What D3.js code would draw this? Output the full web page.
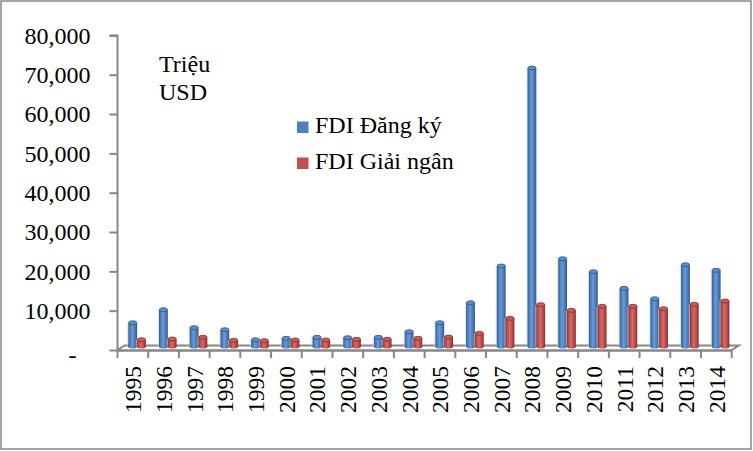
<!DOCTYPE html>
<html>
<head>
<meta charset="utf-8">
<script src="https://cdn.jsdelivr.net/npm/d3@7"></script>
<style>
html,body{margin:0;padding:0;background:#fff;}
svg{display:block;}
text{font-family:"Liberation Serif","Times New Roman",serif;fill:#000;}
</style>
</head>
<body>
<svg id="chart" width="753" height="451"></svg>
<script>
const years = ["1995","1996","1997","1998","1999","2000","2001","2002","2003","2004","2005","2006","2007","2008","2009","2010","2011","2012","2013","2014"];
const registered = [6940,10250,5670,5160,2620,2970,3230,3130,3230,4650,6940,12030,21360,71700,23210,19910,15690,13040,21690,20260];
const disbursed  = [2620,2800,3230,2470,2360,2540,2540,2720,2720,2970,3300,4250,8060,11520,10090,11110,11110,10500,11620,12460];
const seriesNames = ["FDI Đăng ký","FDI Giải ngân"];
const yTickValues = [0,10000,20000,30000,40000,50000,60000,70000,80000];
const unitLines = ["Triệu","USD"];

(function(){
const svg = d3.select("#chart");
const W = 753, H = 451;
const pLeft = 117.5, pRight = 731.7, pBottom = 350, pTop = 35.4;
const depth = {dx: 7, dy: -4.5};

// border
svg.append("rect").attr("x",1).attr("y",1).attr("width",W-3).attr("height",H-3)
  .attr("fill","#fff").attr("stroke","#868686").attr("stroke-width",1.5);

const x = d3.scaleBand().domain(years).range([pLeft,pRight]).paddingInner(0).paddingOuter(0);
const y = d3.scaleLinear().domain([0,80000]).range([pBottom,pTop]);

// gradients
const defs = svg.append("defs");
function grad(id, stops){
  const g = defs.append("linearGradient").attr("id",id).attr("x1","0%").attr("x2","100%").attr("y1","0%").attr("y2","0%");
  stops.forEach(s=>g.append("stop").attr("offset",s[0]).attr("stop-color",s[1]));
}
grad("gBlue",[["0%","#2f5a8f"],["18%","#4a7cbb"],["45%","#6a9ad4"],["75%","#4b7cb9"],["100%","#2c5486"]]);
grad("gRed",[["0%","#8e302d"],["18%","#bb4b48"],["45%","#d46b67"],["75%","#b94a47"],["100%","#872d2a"]]);
const styles = [
  {fill:"url(#gBlue)", cap:"#5d8dcb", capStroke:"#2c5486"},
  {fill:"url(#gRed)", cap:"#c95c59", capStroke:"#872d2a"}
];

// floor (3D)
const axisColor = "#868686";
svg.append("path")
  .attr("d",`M${pLeft},${pBottom} L${pLeft+depth.dx},${pBottom+depth.dy} L${pRight+depth.dx},${pBottom+depth.dy} L${pRight},${pBottom}`)
  .attr("fill","none").attr("stroke",axisColor).attr("stroke-width",2);

// bars
const barW = 8.8, ry = 2;
const baseC = pBottom - 3.5;
const data = [registered, disbursed];
data.forEach((vals, si) => {
  const g = svg.append("g");
  const st = styles[si];
  const groups = g.selectAll("g").data(years.map((yr,i)=>({yr, v: vals[i]}))).join("g");
  groups.each(function(d){
    const sel = d3.select(this);
    const x0 = x(d.yr) + 10.8 + si*barW;
    const topC = y(d.v);
    const cx = x0 + barW/2;
    sel.append("rect").attr("x",x0-1.2).attr("y",topC).attr("width",1.4).attr("height",baseC-topC)
      .attr("fill","#c9d3df").attr("opacity",0.6);
    sel.append("ellipse").attr("cx",cx).attr("cy",baseC).attr("rx",barW/2).attr("ry",ry).attr("fill",st.fill);
    sel.append("rect").attr("x",x0).attr("y",topC).attr("width",barW).attr("height",baseC-topC).attr("fill",st.fill);
    sel.append("ellipse").attr("cx",cx).attr("cy",topC).attr("rx",barW/2-0.3).attr("ry",ry)
      .attr("fill",st.cap).attr("stroke",st.capStroke).attr("stroke-width",0.8);
  });
});

// front floor edge / x axis
const xAxis = d3.axisBottom(x).tickSize(0).tickFormat("");
const xg = svg.append("g").attr("transform",`translate(0,${pBottom})`).call(xAxis);
xg.select(".domain").attr("stroke",axisColor).attr("stroke-width",2.5);
const bounds = years.map(yr=>x(yr)).concat([pRight]);
svg.append("g").selectAll("line").data(bounds).join("line")
  .attr("x1",d=>d).attr("x2",d=>d).attr("y1",pBottom).attr("y2",pBottom+8)
  .attr("stroke",axisColor).attr("stroke-width",2);

// x labels rotated
svg.append("g").selectAll("text").data(years).join("text")
  .attr("transform",d=>`translate(${x(d)+x.bandwidth()/2+0.3},366) rotate(-90)`)
  .attr("text-anchor","end").attr("dy","0.34em")
  .style("font-size","23.5px").text(d=>d);

// y axis
const yAxis = d3.axisLeft(y).tickValues(yTickValues).tickSize(8).tickPadding(19)
  .tickFormat(d=> d===0 ? "-" : d3.format(",")(d));
const yg = svg.append("g").attr("transform",`translate(${pLeft},0)`).call(yAxis);
yg.select(".domain").attr("stroke",axisColor).attr("stroke-width",2).attr("d",`M-8,${pTop}H0V${pBottom+1}`);
yg.selectAll(".tick line").attr("stroke",axisColor).attr("stroke-width",2);
yg.selectAll(".tick text").style("font-size","24px").style("font-family",'"Liberation Serif","Times New Roman",serif').attr("fill","#000");
yg.selectAll(".tick text").filter(d=>d===0).attr("x",-41).attr("dy","0.5em");

// unit label
svg.append("g").selectAll("text").data(unitLines).join("text")
  .attr("x",159).attr("y",(d,i)=>71.5+i*28).style("font-size","24px").text(d=>d);

// legend
const lg = svg.append("g").attr("transform","translate(297,121.5)");
const li = lg.selectAll("g").data(seriesNames).join("g").attr("transform",(d,i)=>`translate(0,${i*36})`);
li.append("rect").attr("width",11.5).attr("height",11.5).attr("fill",(d,i)=>i===0?"#4F81BD":"#C0504D");
li.append("text").attr("x",18).attr("y",11.8).style("font-size","24px").text(d=>d);
})();
</script>
</body>
</html>
